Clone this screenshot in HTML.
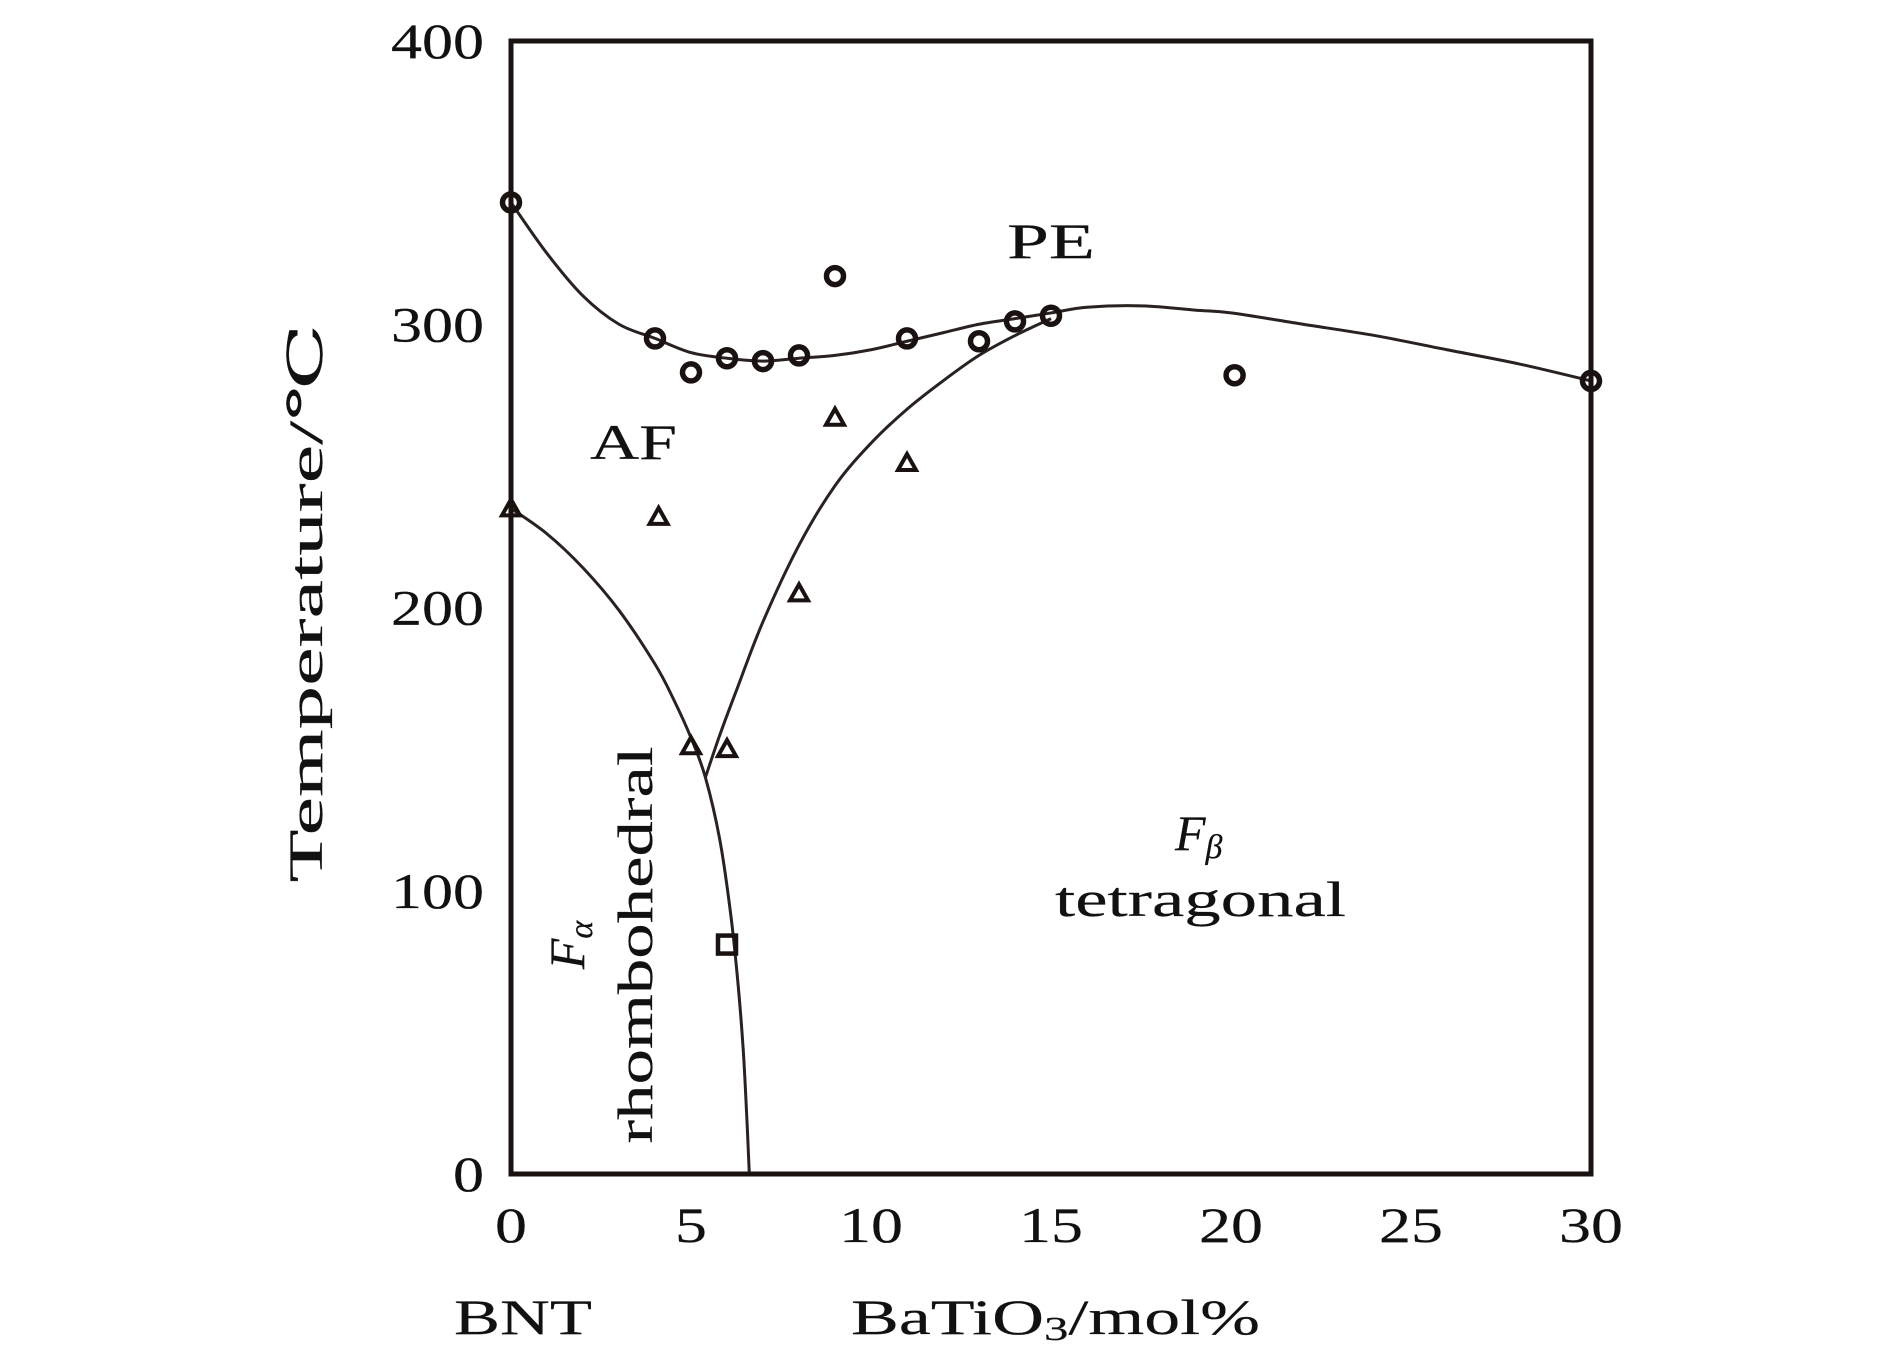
<!DOCTYPE html>
<html><head><meta charset="utf-8"><style>
html,body{margin:0;padding:0;background:#fff;}
svg{display:block;}
text{font-family:"Liberation Serif","DejaVu Serif",serif;fill:#111;stroke:#111;stroke-width:0.2;}
</style></head><body>
<svg id="chart" width="1890" height="1371" viewBox="0 0 1890 1371">
<rect x="0" y="0" width="1890" height="1371" fill="#fff"/>
<g id="marks"></g>
<rect x="511" y="41" width="1080" height="1133" fill="none" stroke="#1a1210" stroke-width="5"/>
<g id="ticks"></g>
<text x="306" y="603" font-size="48" text-anchor="middle" textLength="559" lengthAdjust="spacingAndGlyphs" transform="rotate(-90 306 603)" dy="16">Temperature/℃</text>
<text x="454" y="1334" font-size="50" textLength="138" lengthAdjust="spacingAndGlyphs">BNT</text>
<text x="851" y="1334" font-size="50" textLength="409" lengthAdjust="spacingAndGlyphs">BaTiO<tspan font-size="34" dy="6">3</tspan><tspan dy="-6">/mol%</tspan></text>
<text x="1007" y="258" font-size="50" textLength="88" lengthAdjust="spacingAndGlyphs">PE</text>
<text x="590" y="459" font-size="50" textLength="87" lengthAdjust="spacingAndGlyphs">AF</text>
<text x="1175" y="850" font-size="50" font-style="italic">F<tspan font-size="34" dy="8">β</tspan></text>
<text x="1055" y="916" font-size="50" textLength="291" lengthAdjust="spacingAndGlyphs">tetragonal</text>
<text x="0" y="0" font-size="50" text-anchor="middle" textLength="397" lengthAdjust="spacingAndGlyphs" transform="translate(652 945) rotate(-90)">rhombohedral</text>
<text x="0" y="0" font-size="50" font-style="italic" text-anchor="middle" transform="translate(584 945) rotate(-90)">F<tspan font-size="34" dy="8">α</tspan></text>
</svg>
<script>
const xTicks = [0,5,10,15,20,25,30];
const yTicks = [0,100,200,300,400];
const circleX = [0,4,5,6,7,8,9,11,13,14,15,20.1,30];
const circleY = [343,295,283,288,287,289,317,295,294,301,303,282,280];
const triX = [0,4.1,5,6,8,9,11];
const triY = [235,232,151,150,205,267,251];
const squareX = [6];
const squareY = [81];
const curve1X = [0,1,2,3,4,5,6,7,8,9,10,11,12,13,14,15,16,17.5,19,20,22,24,26,28,30];
const curve1Y = [343,325,310,300,295,290,288,287,288,289,291,294,297,300,302,304,306,306.5,305,304,300,296,291,286,280];
const curve2X = [5.4,5.8,6.3,7,8,9,10,11,12,13,14,15];
const curve2Y = [140,155,172,195,222,243,258,270,280,289,296,302];
const curve3X = [0,1,2,3,4,4.5,5,5.4,5.8,6.1,6.3,6.45,6.55,6.62];
const curve3Y = [235,226,214,199,180,168,154,140,118,92,68,44,20,0];
const X0=511,X1=1591,Y0=1174,Y1=41;
function sx(v){return X0+(X1-X0)*v/30;}
function sy(v){return Y0-(Y0-Y1)*v/400;}
const NS='http://www.w3.org/2000/svg';
const marks=document.getElementById('marks');
const ticks=document.getElementById('ticks');
function mk(tag,attrs,parent){const e=document.createElementNS(NS,tag);for(const k in attrs)e.setAttribute(k,attrs[k]);parent.appendChild(e);return e;}
function smooth(xs,ys){
  const p=xs.map((x,i)=>[sx(x),sy(ys[i])]);
  let d='M'+p[0][0]+','+p[0][1];
  for(let i=0;i<p.length-1;i++){
    const a=p[i-1]||p[i],b=p[i],c=p[i+1],e=p[i+2]||c;
    const c1=[b[0]+(c[0]-a[0])/6,b[1]+(c[1]-a[1])/6];
    const c2=[c[0]-(e[0]-b[0])/6,c[1]-(e[1]-b[1])/6];
    d+=' C'+c1[0]+','+c1[1]+' '+c2[0]+','+c2[1]+' '+c[0]+','+c[1];
  }
  return d;
}
[[curve1X,curve1Y,'upper-transition-curve'],[curve2X,curve2Y,'tetragonal-boundary-curve'],[curve3X,curve3Y,'rhombohedral-boundary-curve']].forEach(c=>{
  const el=mk('path',{d:smooth(c[0],c[1]),fill:'none',stroke:'#2a2220','stroke-width':3},marks);
  
  
});
circleX.forEach((x,i)=>{
  const el=mk('circle',{cx:sx(x),cy:sy(circleY[i]),r:8.5,fill:'none',stroke:'#1a1210','stroke-width':5.5},marks);
  
  
});
triX.forEach((x,i)=>{
  const cx=sx(x),cy=sy(triY[i]);
  const el=mk('polygon',{points:(cx)+','+(cy-9)+' '+(cx-9)+','+(cy+7)+' '+(cx+9)+','+(cy+7),fill:'none',stroke:'#1a1210','stroke-width':4},marks);
  
  
});
squareX.forEach((x,i)=>{
  const el=mk('rect',{x:sx(x)-9,y:sy(squareY[i])-9,width:18,height:18,fill:'none',stroke:'#1a1210','stroke-width':4.5},marks);
  
  
});
xTicks.forEach(v=>{
  const t=mk('text',{x:sx(v),y:1242,'font-size':50,'text-anchor':'middle',textLength:String(v).length*32,lengthAdjust:'spacingAndGlyphs'},ticks);
  t.textContent=v;
  
  
});
yTicks.forEach(v=>{
  const t=mk('text',{x:484,y:sy(v)+17,'font-size':50,'text-anchor':'end',textLength:String(v).length*31,lengthAdjust:'spacingAndGlyphs'},ticks);
  t.textContent=v;
  
  
});
</script>
</body></html>
